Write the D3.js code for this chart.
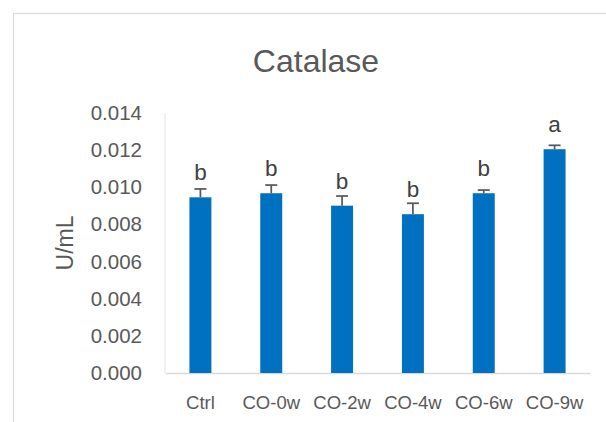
<!DOCTYPE html>
<html><head><meta charset="utf-8">
<script src="https://cdn.jsdelivr.net/npm/d3@7"></script>
<style>body{margin:0;background:#fff}svg{display:block}</style>
</head><body>
<svg id="c" width="606" height="422"></svg>
<script>
const categories = ["Ctrl","CO-0w","CO-2w","CO-4w","CO-6w","CO-9w"];
const values = [0.00946,0.00968,0.00901,0.00855,0.00968,0.01205];
const errors = [0.00045,0.00044,0.00052,0.00059,0.00017,0.00021];
const letters = ["b","b","b","b","b","a"];
const yTicks = [0,0.002,0.004,0.006,0.008,0.010,0.012,0.014];

const svg = d3.select("#c");
const font = "'Liberation Sans', Arial, sans-serif";
const m = {left:165, right:590, top:113, bottom:373};

svg.append("rect").attr("x",13.5).attr("y",13.5).attr("width",700).attr("height",600)
  .attr("fill","#fff").attr("stroke","#d9d9d9").attr("stroke-width",1.2);

const x = d3.scaleBand().domain(categories).range([m.left,m.right]).paddingInner(0.69).paddingOuter(0.345);
const y = d3.scaleLinear().domain([0,0.014]).range([m.bottom,m.top]);

svg.append("line").attr("x1",m.left).attr("x2",m.left).attr("y1",m.top).attr("y2",m.bottom)
  .attr("stroke","#e3e3e3").attr("stroke-width",1);

const yAxis = svg.append("g").attr("transform",`translate(${m.left},0)`)
  .call(d3.axisLeft(y).tickValues(yTicks).tickFormat(d3.format(".3f")).tickSize(0).tickPadding(23));
yAxis.select(".domain").remove();
yAxis.selectAll("text").attr("font-family",font).attr("font-size",20.5).attr("fill","#595959");

const xAxis = svg.append("g").attr("transform",`translate(0,${m.bottom})`)
  .call(d3.axisBottom(x).tickSize(0).tickPadding(23));
xAxis.select(".domain").attr("stroke","#d9d9d9").attr("stroke-width",1.5);
xAxis.selectAll("text").attr("font-family",font).attr("font-size",18.5).attr("fill","#595959");

svg.selectAll(".bar").data(categories).enter().append("rect").attr("class","bar")
  .attr("x",d=>x(d)).attr("width",x.bandwidth())
  .attr("y",(d,i)=>y(values[i])).attr("height",(d,i)=>y(0)-y(values[i]))
  .attr("fill","#0070C0");

const eg = svg.append("g").attr("stroke","#595959").attr("stroke-width",1.75);
categories.forEach((c,i)=>{
  const cx = x(c)+x.bandwidth()/2;
  eg.append("line").attr("x1",cx).attr("x2",cx).attr("y1",y(values[i])).attr("y2",y(values[i]+errors[i]));
  eg.append("line").attr("x1",cx-6).attr("x2",cx+6).attr("y1",y(values[i]+errors[i])).attr("y2",y(values[i]+errors[i]));
});

svg.selectAll(".lab").data(categories).enter().append("text").attr("class","lab")
  .attr("x",d=>x(d)+x.bandwidth()/2).attr("y",(d,i)=>y(values[i])-17)
  .attr("text-anchor","middle").attr("font-family",font).attr("font-size",22.5).attr("fill","#404040")
  .text((d,i)=>letters[i]);

svg.append("text").attr("x",316).attr("y",72).attr("text-anchor","middle")
  .attr("font-family",font).attr("font-size",32).attr("fill","#595959").text("Catalase");

svg.append("text").attr("transform","translate(73,243) rotate(-90)").attr("text-anchor","middle")
  .attr("font-family",font).attr("font-size",23).attr("fill","#595959").text("U/mL");
</script>
</body></html>
